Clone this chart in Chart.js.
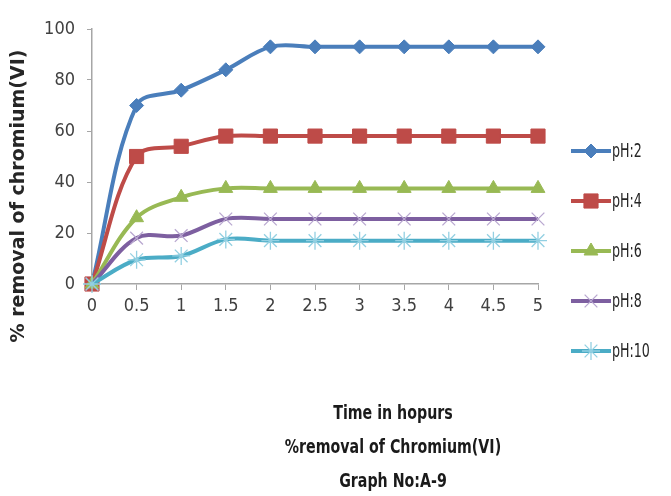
<!DOCTYPE html>
<html>
<head>
<meta charset="utf-8">
<script src="https://cdn.jsdelivr.net/npm/chart.js@4.4.0/dist/chart.umd.min.js"></script>
<style>
html,body{margin:0;padding:0;background:#fff;}
#wrap{width:671px;height:496px;}
</style>
</head>
<body>
<div id="wrap"><canvas id="grafCromo"></canvas></div>
<script>
const tiempos = ['0', '0.5', '1', '1.5', '2', '2.5', '3', '3.5', '4', '4.5', '5'];
const ph2 = [0, 70, 76, 84, 93, 93, 93, 93, 93, 93, 93];
const ph4 = [0, 50, 54, 58, 58, 58, 58, 58, 58, 58, 58];
const ph6 = [0, 26, 34, 37.5, 37.5, 37.5, 37.5, 37.5, 37.5, 37.5, 37.5];
const ph8 = [0, 18, 19, 25.5, 25.5, 25.5, 25.5, 25.5, 25.5, 25.5, 25.5];
const ph10 = [0, 9.5, 11, 17.5, 17, 17, 17, 17, 17, 17, 17];
const nombres = ['pH:2', 'pH:4', 'pH:6', 'pH:8', 'pH:10'];
const ticksY = [0, 20, 40, 60, 80, 100];
const tituloY = '% removal of chromium(VI)';
const pie = ['Time in hopurs', '%removal of Chromium(VI)', 'Graph No:A-9'];

const fuenteAngosta = "'Liberation Sans Narrow', 'DejaVu Sans Condensed', sans-serif";

// estilo de cada serie: linea, marcador
const estilos = [
    { linea: '#4a7ebb', marca: '#4a7ebb', forma: 'rectRot', radio: 7, borde: 1 },
    { linea: '#be4b48', marca: '#be4b48', forma: 'rect', radio: 10, borde: 1 },
    { linea: '#98b954', marca: '#98b954', forma: 'triangle', radio: 8, borde: 1 },
    { linea: '#7d5fa0', marca: '#b9a8d0', forma: 'crossRot', radio: 9, borde: 1.3 },
    { linea: '#4bacc6', marca: '#93d0e2', forma: 'star', radio: 9, borde: 1.3 }
];
const series = [ph2, ph4, ph6, ph8, ph10];

const datasets = series.map(function(s, i) {
    return {
        label: nombres[i],
        data: s,
        borderColor: estilos[i].linea,
        backgroundColor: estilos[i].marca,
        borderWidth: 4,
        tension: 0.35,
        pointStyle: estilos[i].forma,
        pointRadius: estilos[i].radio,
        pointHoverRadius: estilos[i].radio,
        pointBackgroundColor: estilos[i].marca,
        pointBorderColor: estilos[i].marca,
        pointBorderWidth: estilos[i].borde,
        clip: false,
        order: 4 - i
    };
});

// texto angosto: escala horizontal
function textoAngosto(ctx, txt, x, y, escala) {
    ctx.save();
    ctx.translate(x, y);
    ctx.scale(escala, 1);
    ctx.fillText(txt, 0, 0);
    ctx.restore();
}

// dibuja titulo Y, leyenda y pie
const pluginTextos = {
    id: 'textos',
    afterDraw(chart) {
        const ctx = chart.ctx;
        ctx.save();
        ctx.translate(19, 196);
        ctx.rotate(-Math.PI / 2);
        ctx.font = "bold 19px 'DejaVu Sans', sans-serif";
        ctx.fillStyle = '#262626';
        ctx.textAlign = 'center';
        ctx.textBaseline = 'middle';
        ctx.fillText(tituloY, 0, 0);
        ctx.restore();

        // leyenda
        ctx.save();
        for (var i = 0; i < nombres.length; i++) {
            var y = 151 + i * 50;
            ctx.strokeStyle = estilos[i].linea;
            ctx.lineWidth = 4;
            ctx.beginPath();
            ctx.moveTo(571, y);
            ctx.lineTo(611, y);
            ctx.stroke();
            ctx.fillStyle = estilos[i].marca;
            ctx.strokeStyle = estilos[i].marca;
            ctx.lineWidth = estilos[i].borde;
            Chart.helpers.drawPoint(ctx, {
                pointStyle: estilos[i].forma,
                radius: estilos[i].radio,
                rotation: 0,
                borderWidth: estilos[i].borde
            }, 591, y);
            ctx.fillStyle = '#262626';
            ctx.font = '19px ' + fuenteAngosta;
            ctx.textAlign = 'left';
            ctx.textBaseline = 'middle';
            textoAngosto(ctx, nombres[i], 612, y + 1, 0.74);
        }
        ctx.restore();

        // pie de grafica
        ctx.save();
        ctx.fillStyle = '#1a1a1a';
        ctx.font = 'bold 20px ' + fuenteAngosta;
        ctx.textAlign = 'center';
        ctx.textBaseline = 'middle';
        for (var k = 0; k < pie.length; k++) {
            textoAngosto(ctx, pie[k], 393, 414 + k * 34, 0.79);
        }
        ctx.restore();
    }
};

const grafCromo = new Chart(document.getElementById('grafCromo').getContext('2d'), {
    type: 'line',
    data: { labels: tiempos, datasets: datasets },
    options: {
        responsive: true,
        maintainAspectRatio: false,
        animation: false,
        layout: { padding: { top: 29, right: 133, left: 0, bottom: 0 } },
        scales: {
            x: {
                afterFit: function(scale) { scale.height = 212; },
                grid: { drawOnChartArea: false, tickLength: 6, color: '#a6a6a6' },
                border: { color: '#a6a6a6', width: 1.5 },
                ticks: {
                    color: '#404040',
                    padding: 6,
                    maxRotation: 0,
                    autoSkip: false,
                    font: { size: 18, family: fuenteAngosta }
                }
            },
            y: {
                min: 0,
                max: 100,
                afterFit: function(scale) { scale.width = 92; },
                afterBuildTicks: function(scale) {
                    scale.ticks = ticksY.map(function(v) { return { value: v }; });
                },
                grid: { drawOnChartArea: false, tickLength: 5, color: '#a6a6a6' },
                border: { color: '#a6a6a6', width: 1.5 },
                ticks: {
                    color: '#404040',
                    padding: 12,
                    font: { size: 18, family: fuenteAngosta }
                }
            }
        },
        plugins: {
            legend: { display: false },
            tooltip: { enabled: false }
        }
    },
    plugins: [pluginTextos]
});
</script>
</body>
</html>
